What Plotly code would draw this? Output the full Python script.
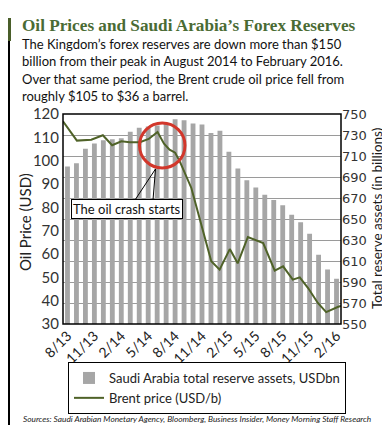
import plotly.graph_objects as go

# ---------------- data ----------------
months = ["8/13", "9/13", "10/13", "11/13", "12/13",
          "1/14", "2/14", "3/14", "4/14", "5/14", "6/14", "7/14", "8/14", "9/14", "10/14", "11/14", "12/14",
          "1/15", "2/15", "3/15", "4/15", "5/15", "6/15", "7/15", "8/15", "9/15", "10/15", "11/15", "12/15",
          "1/16", "2/16"]
reserves = [700, 703, 717, 722, 725, 726, 727, 733, 737, 738, 739, 741, 745, 744, 741, 740,
            732, 734, 714, 698, 687, 680, 673, 668, 663, 654, 647, 636, 616, 602, 593]
tick_labels = ["8/13", "11/13", "2/14", "5/14", "8/14", "11/14", "2/15", "5/15", "8/15", "11/15", "2/16"]

# Brent price, months since Aug 2013
brent_month = [0, 1.5, 3.05, 4.3, 5.3, 6.3, 7.2, 8.3, 9.25, 10.2, 10.9, 11.5, 12.1, 12.6, 13.85,
               14.9, 16.0, 16.9, 18.0, 18.85, 19.95, 21.6, 22.85, 23.75, 24.8, 25.55, 26.45, 27.5,
               28.4, 29.7, 30]
brent_price = [116.9, 108.6, 109.0, 110.9, 106.6, 108.3, 107.9, 107.9, 109.3, 112.3, 107.3, 104.7,
               103.4, 99.7, 88.3, 72.6, 56.9, 53.3, 62.1, 56.0, 67.3, 64.7, 52.9, 54.7, 49.0, 50.0,
               45.4, 39.0, 35.1, 37.4, 37.7]

# ---------------- layout helpers ----------------
W, H = 390, 425
L, R, T, B = 55, 333, 106, 316


def px(x):
    return (x - L) / (R - L)


def py(y):
    return (B - y) / (B - T)


SANS = "Lato, 'Noto Sans', sans-serif"
GREEN = "#4f6228"

fig = go.Figure()
fig.add_trace(go.Bar(
    x=months, y=reserves, xaxis="x", yaxis="y",
    marker=dict(color="#a6a6a6", line=dict(width=0)),
    name="Saudi Arabia total reserve assets, USDbn",
))
fig.add_trace(go.Scatter(
    x=brent_month, y=brent_price, xaxis="x2", yaxis="y2",
    mode="lines", line=dict(color=GREEN, width=2),
    name="Brent price (USD/b)",
))

annotations = []
annotations.append(dict(
    text="<b>Oil Prices and Saudi Arabia’s Forex Reserves</b>",
    x=px(12), y=py(18), xref="paper", yref="paper", xanchor="left", yanchor="middle",
    showarrow=False, font=dict(family="'Liberation Serif', serif", size=17.2, color="#4a6b34"),
))
sub_lines = [
    "The Kingdom’s forex reserves are down more than $150",
    "billion from their peak in August 2014 to February 2016.",
    "Over that same period, the Brent crude oil price fell from",
    "roughly $105 to $36 a barrel.",
]
for i, s in enumerate(sub_lines):
    annotations.append(dict(
        text=s, x=px(12), y=py(36 + i * 17.4), xref="paper", yref="paper",
        xanchor="left", yanchor="middle", showarrow=False,
        font=dict(family=SANS, size=13, color="#111111"),
    ))
annotations.append(dict(
    text="Oil Price (USD)", x=px(17), y=py(214), xref="paper", yref="paper",
    xanchor="center", yanchor="middle", textangle=-90, showarrow=False,
    font=dict(family=SANS, size=15, color="#222222"),
))
annotations.append(dict(
    text="Total reserve assets (in billions)", x=px(369), y=py(211), xref="paper", yref="paper",
    xanchor="center", yanchor="middle", textangle=-90, showarrow=False,
    font=dict(family=SANS, size=13.5, color="#1a1a1a"),
))
annotations.append(dict(
    text="The oil crash starts", x=px(119), y=py(201), xref="paper", yref="paper",
    xanchor="center", yanchor="middle", showarrow=False,
    font=dict(family=SANS, size=13, color="#111111"),
    bgcolor="white", bordercolor="black", borderwidth=1, borderpad=1,
))
annotations.append(dict(
    text="<i>Sources: Saudi Arabian Monetary Agency, Bloomberg, Business Insider, Money Morning Staff Research</i>",
    x=px(13), y=py(411), xref="paper", yref="paper", xanchor="left", yanchor="middle",
    showarrow=False, font=dict(family=SANS, size=8.3, color="#222222"),
))

shapes = [
    # plot frame
    dict(type="rect", xref="paper", yref="paper", x0=0, x1=1, y0=0, y1=1,
         line=dict(color="black", width=1.5), layer="above"),
    # red circle
    dict(type="circle", xref="paper", yref="paper", x0=px(131.5), x1=px(177), y0=py(160), y1=py(115),
         line=dict(color="#d2372b", width=3), layer="above"),
    # callout pointer
    dict(type="line", xref="paper", yref="paper", x0=px(127), y0=py(192), x1=px(147.5), y1=py(161),
         line=dict(color="black", width=1), layer="above"),
    dict(type="line", xref="paper", yref="paper", x0=px(145), y0=py(192), x1=px(147.5), y1=py(161),
         line=dict(color="black", width=1), layer="above"),
    # green accent bar next to title
    dict(type="rect", xref="paper", yref="paper", x0=px(0), x1=px(3), y0=py(33), y1=py(10),
         fillcolor="#4a5e2a", line=dict(width=0)),
    # outer border (left, bottom, right)
    dict(type="path", xref="paper", yref="paper",
         path=f"M {px(1)} {py(33)} L {px(1)} {py(423.5)} L {px(388)} {py(423.5)} L {px(388)} {py(0)}",
         line=dict(color="black", width=2)),
]

fig.update_layout(
    width=W, height=H,
    margin=dict(l=L, r=W - R, t=T, b=H - B, pad=0),
    paper_bgcolor="white", plot_bgcolor="white",
    showlegend=True,
    bargap=0.46,
    xaxis=dict(
        type="category", categoryorder="array", categoryarray=months,
        range=[-0.5, len(months) - 0.5],
        tickmode="array", tickvals=tick_labels, ticktext=tick_labels,
        tickangle=-45, showgrid=False, zeroline=False, ticks="",
        tickfont=dict(family=SANS, size=14, color="#222222"),
        showline=False,
    ),
    xaxis2=dict(
        overlaying="x", anchor="y2", range=[0, 30], visible=False, showgrid=False, zeroline=False,
    ),
    yaxis=dict(
        side="right", range=[550, 750], dtick=20, tick0=550,
        showgrid=True, gridcolor="#9a9a9a", gridwidth=1,
        zeroline=False, ticks="", showline=False,
        tickfont=dict(family="'DejaVu Sans', sans-serif", size=13, color="#333333"),
    ),
    yaxis2=dict(
        overlaying="y", side="left", anchor="x", range=[30, 120], dtick=10, tick0=30,
        showgrid=False, zeroline=False, ticks="", showline=False, ticklabelstandoff=3,
        tickfont=dict(family=SANS, size=15, color="#333333"),
    ),
    legend=dict(
        x=px(60), y=py(354), xanchor="left", yanchor="top", xref="paper", yref="paper",
        bordercolor="black", borderwidth=1, bgcolor="white",
        font=dict(family=SANS, size=13, color="#222222"),
        itemwidth=30, tracegroupgap=0,
    ),
    annotations=annotations,
    shapes=shapes,
)

fig.write_html("out.html")
